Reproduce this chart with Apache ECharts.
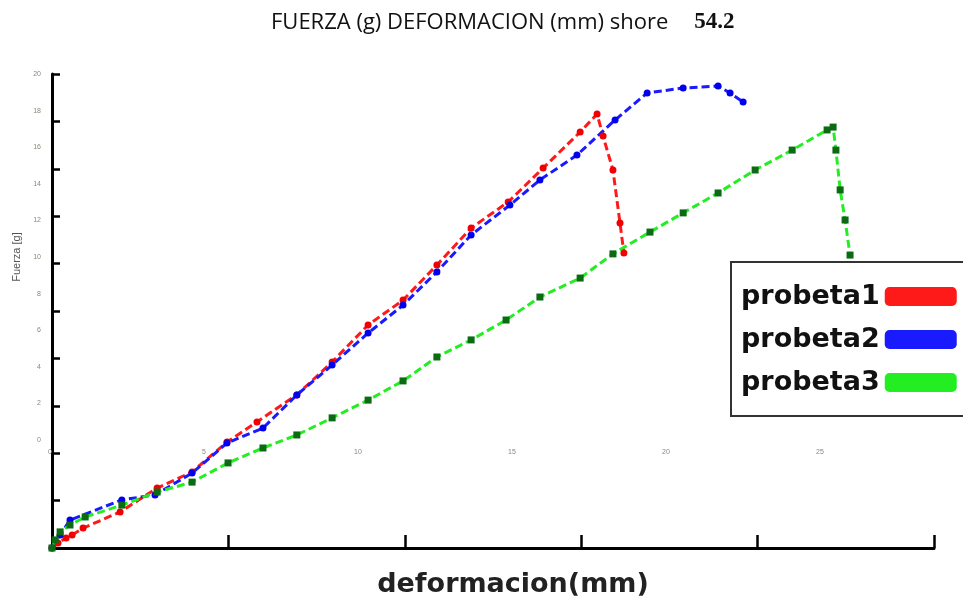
<!DOCTYPE html>
<html>
<head>
<meta charset="utf-8">
<script src="https://cdn.jsdelivr.net/npm/echarts@6/dist/echarts.min.js"></script>
<style>html,body{margin:0;padding:0;background:#fff;}#c{width:963px;height:603px;}</style>
</head>
<body>
<div id="c"></div>
<script>
const seriesNames = ['probeta1', 'probeta2', 'probeta3'];

const redX = [0, 0.17, 0.40, 0.57, 0.88, 1.93, 2.98, 3.97, 4.96, 5.81, 6.94, 7.94, 8.96, 9.95, 10.91, 11.88, 12.93, 13.92, 14.97, 15.45, 15.62, 15.90, 16.10, 16.21];
const redY = [0, 0.21, 0.42, 0.55, 0.84, 1.52, 2.53, 3.21, 4.47, 5.32, 6.46, 7.85, 9.41, 10.46, 11.94, 13.50, 14.60, 16.03, 17.55, 18.31, 17.38, 15.95, 13.71, 12.45];

const blueX = [0, 0.23, 0.51, 1.98, 2.92, 3.97, 4.96, 5.98, 6.94, 7.94, 8.96, 9.95, 10.91, 11.88, 12.98, 13.83, 14.88, 15.96, 16.87, 17.89, 18.88, 19.22, 19.59];
const blueY = [0, 0.55, 1.18, 2.03, 2.24, 3.16, 4.43, 5.06, 6.46, 7.72, 9.07, 10.25, 11.65, 13.21, 14.47, 15.53, 16.58, 18.06, 19.20, 19.41, 19.49, 19.20, 18.82];

const greenX = [0, 0.09, 0.23, 0.51, 0.94, 1.98, 2.98, 3.97, 4.99, 5.98, 6.94, 7.94, 8.96, 9.95, 10.91, 11.88, 12.87, 13.83, 14.97, 15.90, 16.95, 17.89, 18.88, 19.93, 20.98, 21.97, 22.14, 22.22, 22.34, 22.48, 22.62];
const greenY = [0, 0.34, 0.68, 0.97, 1.31, 1.81, 2.36, 2.78, 3.59, 4.22, 4.77, 5.49, 6.24, 7.05, 8.06, 8.78, 9.62, 10.59, 11.39, 12.41, 13.33, 14.14, 14.98, 15.95, 16.79, 17.64, 17.76, 16.79, 15.11, 13.84, 12.36];

const lineColors = ['#ff1a1a', '#1a1aff', '#22ee22'];
const markerColors = ['#f00000', '#0000ee', '#0a6b12'];

function pairs(xs, ys) { return xs.map((x, i) => [x, ys[i]]); }

const chart = echarts.init(document.getElementById('c'), null, {renderer: 'canvas'});
const faint = '#8c8676';
chart.setOption({
  animation: false,
  backgroundColor: '#fff',
  title: {
    left: 266, top: 6,
    text: '{a|FUERZA (g) DEFORMACION (mm) shore}{b|54.2}',
    textStyle: {
      fontWeight: 'normal',
      rich: {
        a: {fontFamily: 'Open Sans', fontWeight: 'normal', fontSize: 22, color: '#111'},
        b: {fontFamily: 'Liberation Serif', fontWeight: 'bold', fontSize: 23, color: '#111', padding: [0, 0, 0, 26]}
      }
    }
  },
  legend: {
    data: seriesNames.map((n, i) => ({name: n, itemStyle: {color: lineColors[i]}})),
    orient: 'vertical',
    align: 'right',
    left: 731, top: 262,
    padding: [21, 10, 20, 10],
    itemGap: 16,
    itemWidth: 72, itemHeight: 19,
    icon: 'roundRect',
    selectedMode: false,
    borderColor: '#333', borderWidth: 2,
    textStyle: {fontFamily: 'DejaVu Sans', fontWeight: 'bold', fontSize: 27, color: '#111'}
  },
  grid: [
    {left: 52, right: 29, top: 74, bottom: 55},
    {left: 50, right: 143, top: 74, bottom: 163}
  ],
  xAxis: [
    {
      type: 'value', gridIndex: 0, min: 0, max: 25, interval: 5,
      name: 'deformacion(mm)', nameLocation: 'middle', nameGap: 23,
      nameTextStyle: {fontFamily: 'DejaVu Sans', fontWeight: 'bold', fontSize: 27, color: '#222', padding: [0, 0, 0, 40]},
      axisLine: {lineStyle: {color: '#000', width: 3}},
      axisTick: {inside: true, length: 13, lineStyle: {color: '#000', width: 2.5}},
      axisLabel: {show: false},
      splitLine: {show: false}
    },
    {
      type: 'value', gridIndex: 1, min: 0, max: 25, interval: 5,
      axisLine: {show: false}, axisTick: {show: false}, splitLine: {show: false},
      axisLabel: {fontSize: 7, color: faint, margin: 9}
    }
  ],
  yAxis: [
    {
      type: 'value', gridIndex: 0, min: 0, max: 20, interval: 2,
      axisLine: {lineStyle: {color: '#000', width: 3}},
      axisTick: {inside: true, length: 8, lineStyle: {color: '#000', width: 2.5}},
      axisLabel: {show: false},
      splitLine: {show: false}
    },
    {
      type: 'value', gridIndex: 1, min: 0, max: 20, interval: 2,
      name: 'Fuerza [g]', nameLocation: 'middle', nameGap: 20, nameRotate: 90,
      nameTextStyle: {fontSize: 11, color: '#555'},
      axisLine: {show: false}, axisTick: {show: false}, splitLine: {show: false},
      axisLabel: {fontSize: 7, color: faint, margin: 9}
    }
  ],
  series: [
    {name: seriesNames[0], type: 'line', xAxisIndex: 0, yAxisIndex: 0, data: pairs(redX, redY),
     symbol: 'circle', symbolSize: 7,
     itemStyle: {color: markerColors[0]},
     lineStyle: {type: [8, 4], width: 3, color: lineColors[0]}},
    {name: seriesNames[1], type: 'line', xAxisIndex: 0, yAxisIndex: 0, data: pairs(blueX, blueY),
     symbol: 'circle', symbolSize: 7,
     itemStyle: {color: markerColors[1]},
     lineStyle: {type: [8, 4], width: 3, color: lineColors[1]}},
    {name: seriesNames[2], type: 'line', xAxisIndex: 0, yAxisIndex: 0, data: pairs(greenX, greenY),
     symbol: 'rect', symbolSize: 7,
     itemStyle: {color: markerColors[2]},
     lineStyle: {type: [8, 4], width: 3, color: lineColors[2]}}
  ]
});
</script>
</body>
</html>
